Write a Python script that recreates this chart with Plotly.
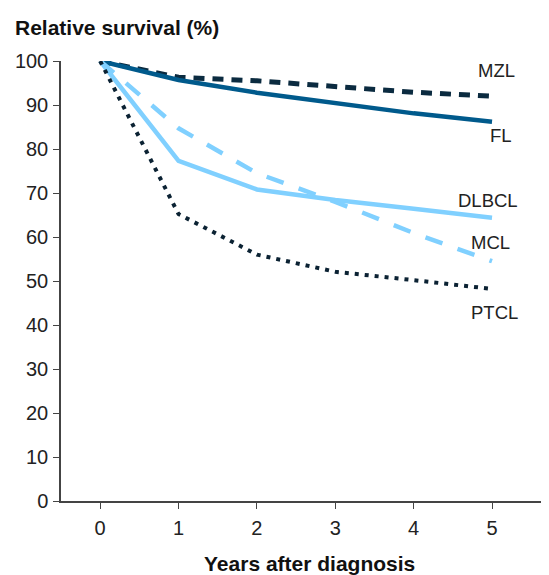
import plotly.graph_objects as go

years = [0, 1, 2, 3, 4, 5]
mzl = [100, 96.3, 95.5, 94.3, 92.9, 92.0]
fl = [100, 95.7, 92.8, 90.5, 88.1, 86.2]
dlbcl = [100, 77.3, 70.8, 68.4, 66.4, 64.4]
mcl = [100, 84.7, 74.5, 68.0, 60.9, 54.5]
ptcl = [100, 65.2, 56.0, 52.1, 50.2, 48.2]

series = [
    ("MZL", mzl, "#0b2b40", "11px,8px", 5),
    ("FL", fl, "#005a8c", "solid", 4.5),
    ("DLBCL", dlbcl, "#80d0ff", "solid", 4.5),
    ("MCL", mcl, "#80d0ff", "18px,16px", 4.5),
    ("PTCL", ptcl, "#0b2233", "4px,6px", 4),
]
label_pos = {"MZL": 97.8, "FL": 83.0, "DLBCL": 68.3, "MCL": 58.8, "PTCL": 42.8}
label_x = {"MZL": 5.06, "FL": 5.12, "DLBCL": 4.95, "MCL": 4.98, "PTCL": 5.03}

FONT = "Liberation Sans, Arial"

fig = go.Figure()
for name, vals, color, dash, w in series:
    fig.add_trace(go.Scatter(x=years, y=vals, mode="lines", name=name,
                             line=dict(color=color, width=w, dash=dash)))
    fig.add_annotation(x=label_x[name], y=label_pos[name], text=name, showarrow=False,
                       xanchor="center", yanchor="middle",
                       font=dict(family=FONT, size=18.5, color="#222"))

fig.add_annotation(xref="paper", yref="paper", x=-0.098, y=1.077,
                   text="<b>Relative survival (%)</b>",
                   showarrow=False, xanchor="left", yanchor="middle",
                   font=dict(family=FONT, size=21, color="#111"))
fig.add_annotation(xref="x", yref="paper", x=2.67, y=-0.141,
                   text="<b>Years after diagnosis</b>",
                   showarrow=False, xanchor="center", yanchor="middle",
                   font=dict(family=FONT, size=21, color="#111"))

fig.update_layout(
    width=541, height=567,
    margin=dict(l=53, r=0, t=53, b=74),
    paper_bgcolor="white", plot_bgcolor="white",
    showlegend=False,
    font=dict(family=FONT, size=20, color="#222"),
    xaxis=dict(range=[-0.5, 5.727], tickvals=years, ticks="outside", ticklen=6,
               tickcolor="#444", showline=True, linecolor="#444", linewidth=1.5,
               showgrid=False, zeroline=False, ticklabelstandoff=2,
               tickfont=dict(size=20, color="#222")),
    yaxis=dict(range=[0, 100], tickvals=list(range(0, 101, 10)), ticks="outside", ticklen=6,
               tickcolor="#444", showline=True, linecolor="#444", linewidth=1.5,
               showgrid=False, zeroline=False, ticklabelstandoff=1,
               tickfont=dict(size=20, color="#222")),
)

fig.write_html("out.html")
